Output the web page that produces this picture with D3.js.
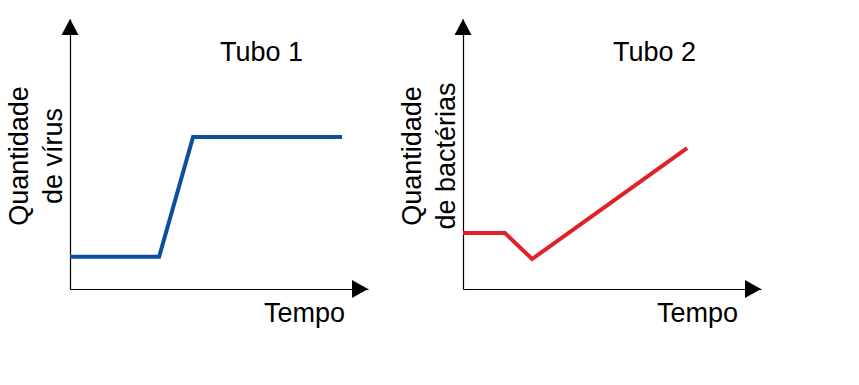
<!DOCTYPE html>
<html>
<head>
<meta charset="utf-8">
<title>Tubo 1 e Tubo 2</title>
<script src="https://cdn.jsdelivr.net/npm/d3@7"></script>
<style>
    body { margin: 0; background: #fff; }
    text { font-family: "Liberation Sans", Arial, sans-serif; fill: #000; }
</style>
</head>
<body>
<svg id="chart"></svg>
<script>
// dados (tempo / quantidade em escala 0-100)
var tubes = ["Tubo 1", "Tubo 2"];
var yLabels = [["Quantidade", "de vírus"], ["Quantidade", "de bactérias"]];
var xLabel = "Tempo";
var virusTime = [0, 29.9, 41.3, 91.3];
var virusQty = [11.9, 11.9, 56.3, 56.3];
var bactTime = [0, 14.1, 23.2, 75.2];
var bactQty = [20.7, 20.7, 11.1, 52.2];
var colors = ["#0b509e", "#df2128"];

var width = 859, height = 385;
var svg = d3.select("#chart").attr("width", width).attr("height", height);

var series = [
    virusTime.map((t, i) => [t, virusQty[i]]),
    bactTime.map((t, i) => [t, bactQty[i]])
];

var origins = [70, 463];  // posição do eixo y de cada painel
var axisY = 289, topY = 19, axisLen = 298;

tubes.forEach(function(name, k) {
    var x0 = origins[k];
    var x = d3.scaleLinear().domain([0, 100]).range([x0, x0 + axisLen]);
    var y = d3.scaleLinear().domain([0, 100]).range([axisY, topY]);

    var g = svg.append("g");

    // eixos sem marcas
    g.append("g")
        .attr("transform", `translate(0,${axisY})`)
        .call(d3.axisBottom(x).tickValues([]).tickSizeOuter(0))
        .select(".domain").attr("stroke", "#000").attr("stroke-width", 1.2);
    g.append("g")
        .attr("transform", `translate(${x0},0)`)
        .call(d3.axisLeft(y).tickValues([]).tickSizeOuter(0))
        .select(".domain").attr("stroke", "#000").attr("stroke-width", 1.2);

    // setas
    var ax = x(100), ay = y(100);
    g.append("path")
        .attr("d", `M${ax},${axisY} L${ax - 16},${axisY - 9} L${ax - 16},${axisY + 9} Z`)
        .attr("fill", "#000");
    g.append("path")
        .attr("d", `M${x0},${ay} L${x0 - 8.5},${ay + 16} L${x0 + 8.5},${ay + 16} Z`)
        .attr("fill", "#000");

    // linha
    var line = d3.line().x(d => x(d[0])).y(d => y(d[1]));
    g.append("path")
        .datum(series[k])
        .attr("d", line)
        .attr("fill", "none")
        .attr("stroke", colors[k])
        .attr("stroke-width", 4)
        .attr("stroke-linejoin", "miter");

    // título
    g.append("text")
        .attr("x", x0 + 150)
        .attr("y", 61)
        .style("font-size", "27px")
        .text(name);

    // rótulo do eixo x
    g.append("text")
        .attr("x", x0 + 275)
        .attr("y", 322)
        .attr("text-anchor", "end")
        .style("font-size", "27px")
        .text(xLabel);

    // rótulo do eixo y (duas linhas)
    g.append("text")
        .attr("transform", `translate(${x0 - 42},156) rotate(-90)`)
        .attr("text-anchor", "middle")
        .style("font-size", "27px")
        .text(yLabels[k][0]);
    g.append("text")
        .attr("transform", `translate(${x0 - 8},156) rotate(-90)`)
        .attr("text-anchor", "middle")
        .style("font-size", "27px")
        .text(yLabels[k][1]);
});
</script>
</body>
</html>
